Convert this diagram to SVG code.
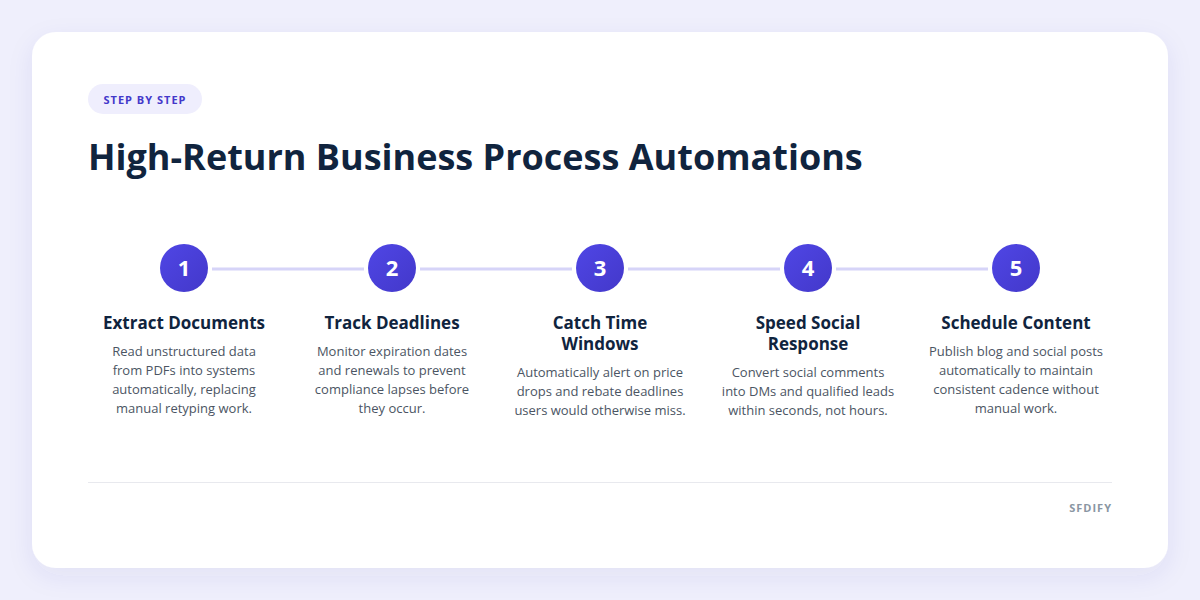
<svg xmlns="http://www.w3.org/2000/svg" width="1200" height="600" viewBox="0 0 1200 600">
<defs>
<linearGradient id="g" x1="0" y1="0" x2="1" y2="1">
<stop offset="0" stop-color="#4f46e5"/>
<stop offset="1" stop-color="#4338ca"/>
</linearGradient>
<filter id="sh" x="-10%" y="-10%" width="120%" height="130%">
<feDropShadow dx="0" dy="8" stdDeviation="12" flood-color="#3730a3" flood-opacity="0.08"/>
</filter>
<style>
.num{font-family:"Open Sans",sans-serif;font-weight:700;font-size:22px;fill:#fff;text-anchor:middle}
.h{font-family:"Open Sans",sans-serif;font-weight:700;font-size:17px;fill:#10243e;text-anchor:middle}
.d{font-family:"Open Sans",sans-serif;font-size:13px;fill:#4b5563;text-anchor:middle}
.ln{stroke:#d6d4f8;stroke-width:3}
</style>
</defs>
<rect width="1200" height="600" fill="#efeffc"/>
<rect x="32" y="32" width="1136" height="536" rx="24" fill="#fff" filter="url(#sh)"/>
<rect x="88" y="84" width="114" height="30" rx="15" fill="#efeefd"/>
<text x="145" y="103.5" text-anchor="middle" font-family="Open Sans, sans-serif" font-weight="700" font-size="11" letter-spacing="1" fill="#4338ca">STEP BY STEP</text>
<text x="88" y="170" font-family="Open Sans, sans-serif" font-weight="700" font-size="36" fill="#10243e">High-Return Business Process Automations</text>
<g id="connectors">
<line class="ln" x1="212" y1="269" x2="364" y2="269"/>
<line class="ln" x1="420" y1="269" x2="572" y2="269"/>
<line class="ln" x1="628" y1="269" x2="780" y2="269"/>
<line class="ln" x1="836" y1="269" x2="988" y2="269"/>
</g>
<g id="step1">
<circle cx="184" cy="268" r="24" fill="url(#g)"/>
<text class="num" x="184" y="276">1</text>
<text class="h" x="184" y="329">Extract Documents</text>
<text class="d" x="184" y="356">Read unstructured data</text>
<text class="d" x="184" y="375">from PDFs into systems</text>
<text class="d" x="184" y="394">automatically, replacing</text>
<text class="d" x="184" y="413">manual retyping work.</text>
</g>
<g id="step2">
<circle cx="392" cy="268" r="24" fill="url(#g)"/>
<text class="num" x="392" y="276">2</text>
<text class="h" x="392" y="329">Track Deadlines</text>
<text class="d" x="392" y="356">Monitor expiration dates</text>
<text class="d" x="392" y="375">and renewals to prevent</text>
<text class="d" x="392" y="394">compliance lapses before</text>
<text class="d" x="392" y="413">they occur.</text>
</g>
<g id="step3">
<circle cx="600" cy="268" r="24" fill="url(#g)"/>
<text class="num" x="600" y="276">3</text>
<text class="h" x="600" y="329">Catch Time</text>
<text class="h" x="600" y="350">Windows</text>
<text class="d" x="600" y="377">Automatically alert on price</text>
<text class="d" x="600" y="396">drops and rebate deadlines</text>
<text class="d" x="600" y="415">users would otherwise miss.</text>
</g>
<g id="step4">
<circle cx="808" cy="268" r="24" fill="url(#g)"/>
<text class="num" x="808" y="276">4</text>
<text class="h" x="808" y="329">Speed Social</text>
<text class="h" x="808" y="350">Response</text>
<text class="d" x="808" y="377">Convert social comments</text>
<text class="d" x="808" y="396">into DMs and qualified leads</text>
<text class="d" x="808" y="415">within seconds, not hours.</text>
</g>
<g id="step5">
<circle cx="1016" cy="268" r="24" fill="url(#g)"/>
<text class="num" x="1016" y="276">5</text>
<text class="h" x="1016" y="329">Schedule Content</text>
<text class="d" x="1016" y="356">Publish blog and social posts</text>
<text class="d" x="1016" y="375">automatically to maintain</text>
<text class="d" x="1016" y="394">consistent cadence without</text>
<text class="d" x="1016" y="413">manual work.</text>
</g>
<line x1="88" y1="482.5" x2="1112" y2="482.5" stroke="#e8e9ee" stroke-width="1"/>
<text x="1112" y="512" text-anchor="end" font-family="Open Sans, sans-serif" font-weight="700" font-size="11" letter-spacing="1" fill="#8a96a3">SFDIFY</text>
</svg>
